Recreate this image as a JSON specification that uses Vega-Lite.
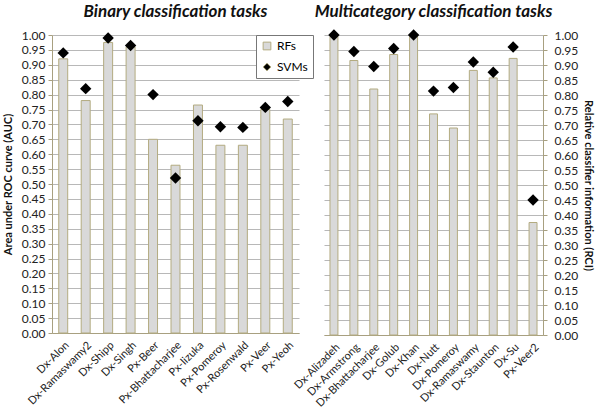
{
  "$schema": "https://vega.github.io/schema/vega-lite/v6.json",
  "background": "white",
  "padding": {"left": 2, "top": 3, "right": 2, "bottom": 2},
  "spacing": 25,
  "bounds": "flush",
  "config": {
    "font": "Lato",
    "view": {"stroke": null},
    "axis": {"labelFont": "Lato", "titleFont": "Lato", "labelColor": "#222", "titleColor": "#111"},
    "axisY": {"format": ".2f", "labelFontSize": 12, "gridColor": "#b8b8b8", "gridWidth": 1.2, "domainColor": "#a8a080", "tickColor": "#a8a080", "tickSize": 4, "labelOverlap": false,
      "titleFontSize": 11, "titleFontWeight": "bold"},
    "title": {"font": "Lato", "fontSize": 17, "fontWeight": "bold", "fontStyle": "italic", "color": "#111", "offset": 8}
  },
  "datasets": {
    "binary": [
      {"task": "Dx-Alon", "RFs": 0.92, "SVMs": 0.94},
      {"task": "Dx-Ramaswamy2", "RFs": 0.78, "SVMs": 0.82},
      {"task": "Dx-Shipp", "RFs": 0.975, "SVMs": 0.99},
      {"task": "Dx-Singh", "RFs": 0.96, "SVMs": 0.965},
      {"task": "Px-Beer", "RFs": 0.65, "SVMs": 0.80},
      {"task": "Px-Bhattacharjee", "RFs": 0.563, "SVMs": 0.52},
      {"task": "Px-Iizuka", "RFs": 0.765, "SVMs": 0.712},
      {"task": "Px-Pomeroy", "RFs": 0.63, "SVMs": 0.692},
      {"task": "Px-Rosenwald", "RFs": 0.63, "SVMs": 0.69},
      {"task": "Px-Veer", "RFs": 0.75, "SVMs": 0.757},
      {"task": "Px-Yeoh", "RFs": 0.718, "SVMs": 0.777}
    ],
    "multi": [
      {"task": "Dx-Alizadeh", "RFs": 0.995, "SVMs": 1.0},
      {"task": "Dx-Armstrong", "RFs": 0.915, "SVMs": 0.945},
      {"task": "Dx-Bhattacharjee", "RFs": 0.82, "SVMs": 0.895},
      {"task": "Dx-Golub", "RFs": 0.935, "SVMs": 0.955},
      {"task": "Dx-Khan", "RFs": 0.995, "SVMs": 1.0},
      {"task": "Dx-Nutt", "RFs": 0.737, "SVMs": 0.813},
      {"task": "Dx-Pomeroy", "RFs": 0.69, "SVMs": 0.825},
      {"task": "Dx-Ramaswamy", "RFs": 0.882, "SVMs": 0.91},
      {"task": "Dx-Staunton", "RFs": 0.857, "SVMs": 0.876},
      {"task": "Dx-Su", "RFs": 0.922, "SVMs": 0.96},
      {"task": "Px-Veer2", "RFs": 0.375, "SVMs": 0.45}
    ]
  },
  "hconcat": [
    {
      "title": "Binary classification tasks",
      "width": 247,
      "height": 298,
      "data": {"name": "binary"},
      "encoding": {
        "x": {"field": "task", "type": "nominal", "sort": null,
          "scale": {"paddingInner": 0.6, "paddingOuter": 0.3},
          "axis": {"title": null, "labelAngle": -45, "labelFontSize": 11, "ticks": false, "domainColor": "#a8a080", "labelPadding": 6}}
      },
      "layer": [
        {
          "mark": {"type": "bar", "fill": "#d9d9d9", "stroke": "#b3ab80", "strokeWidth": 1},
          "encoding": {
            "y": {"field": "RFs", "type": "quantitative",
              "scale": {"domain": [0, 1]},
              "axis": {"title": "Area under ROC curve (AUC)", "titlePadding": 8, "labelPadding": 3,
                "values": [0,0.05,0.1,0.15,0.2,0.25,0.3,0.35,0.4,0.45,0.5,0.55,0.6,0.65,0.7,0.75,0.8,0.85,0.9,0.95,1.0]}},
            "color": {"datum": "RFs", "type": "nominal", "title": null,
              "scale": {"domain": ["RFs", "SVMs"], "range": ["#d9d9d9", "#000000"]},
              "legend": {"orient": "none", "legendX": 204, "legendY": 0, "fillColor": "white", "strokeColor": "#777", "padding": 5, "labelFontSize": 12, "labelOffset": 4, "rowPadding": 9, "symbolSize": 60, "symbolStrokeColor": "#b3ab80", "symbolStrokeWidth": 1}}
          }
        },
        {
          "mark": {"type": "point", "filled": true, "size": 130, "opacity": 1},
          "encoding": {
            "y": {"field": "SVMs", "type": "quantitative", "axis": {"title": "Area under ROC curve (AUC)", "titlePadding": 8, "labelPadding": 3,
                "values": [0,0.05,0.1,0.15,0.2,0.25,0.3,0.35,0.4,0.45,0.5,0.55,0.6,0.65,0.7,0.75,0.8,0.85,0.9,0.95,1.0]}},
            "color": {"datum": "SVMs", "type": "nominal"},
            "shape": {"datum": "SVMs", "type": "nominal", "title": null,
              "scale": {"domain": ["RFs", "SVMs"], "range": ["square", "diamond"]}}
          }
        }
      ]
    },
    {
      "title": "Multicategory classification tasks",
      "width": 219,
      "height": 300,
      "data": {"name": "multi"},
      "encoding": {
        "x": {"field": "task", "type": "nominal", "sort": null,
          "scale": {"paddingInner": 0.6, "paddingOuter": 0.3},
          "axis": {"title": null, "labelAngle": -45, "labelFontSize": 11, "ticks": false, "domainColor": "#a8a080", "labelPadding": 6}}
      },
      "layer": [
        {
          "mark": {"type": "bar", "fill": "#d9d9d9", "stroke": "#b3ab80", "strokeWidth": 1},
          "encoding": {
            "y": {"field": "RFs", "type": "quantitative",
              "scale": {"domain": [0, 1]},
              "axis": {"orient": "right", "title": "Relative classifier information (RCI)", "titlePadding": 5, "labelPadding": 7,
                "values": [0,0.05,0.1,0.15,0.2,0.25,0.3,0.35,0.4,0.45,0.5,0.55,0.6,0.65,0.7,0.75,0.8,0.85,0.9,0.95,1.0]}}
          }
        },
        {
          "mark": {"type": "point", "filled": true, "size": 130, "opacity": 1, "color": "black", "shape": "diamond"},
          "encoding": {
            "y": {"field": "SVMs", "type": "quantitative", "axis": {"orient": "right", "title": "Relative classifier information (RCI)", "titlePadding": 5, "labelPadding": 7,
                "values": [0,0.05,0.1,0.15,0.2,0.25,0.3,0.35,0.4,0.45,0.5,0.55,0.6,0.65,0.7,0.75,0.8,0.85,0.9,0.95,1.0]}}
          }
        }
      ]
    }
  ]
}
